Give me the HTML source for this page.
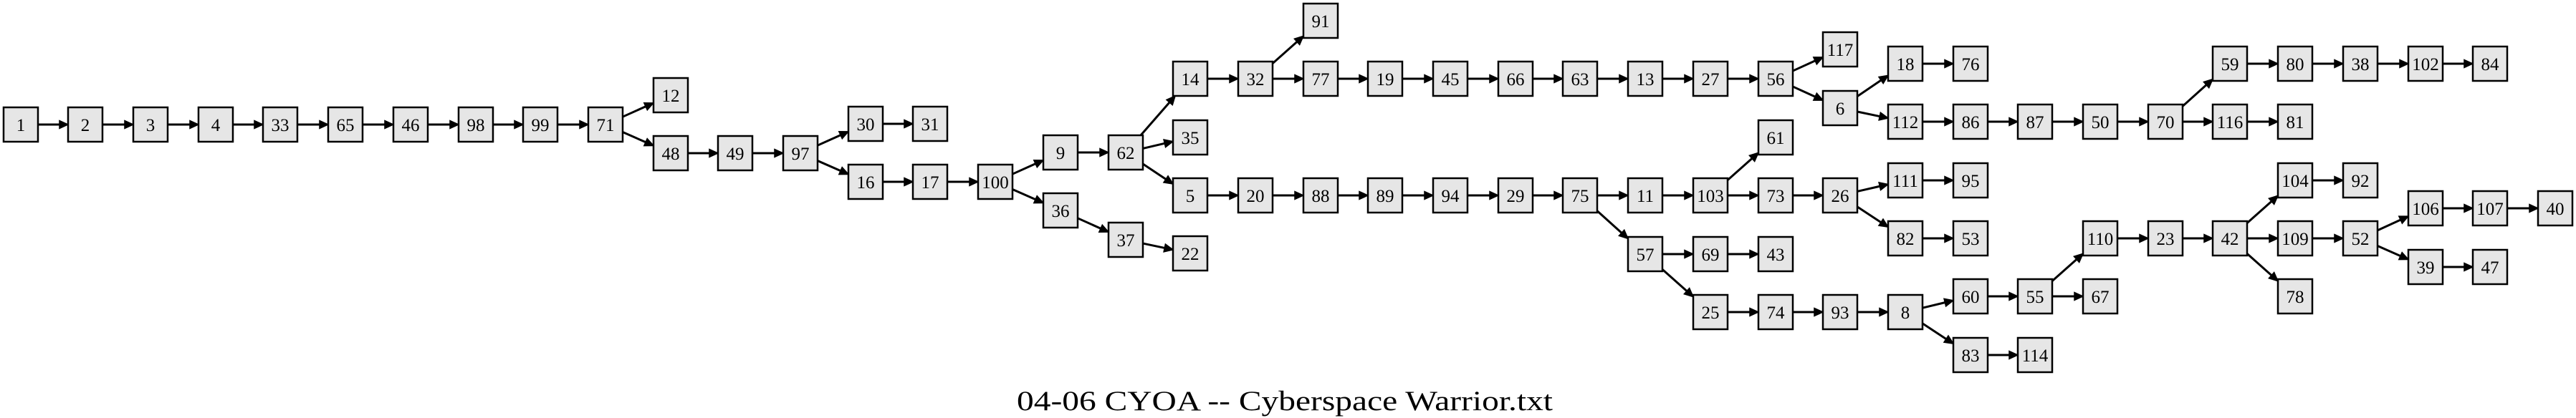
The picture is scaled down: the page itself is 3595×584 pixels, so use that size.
<!DOCTYPE html>
<html><head><meta charset="utf-8">
<style>
html,body{margin:0;padding:0;background:#fff;}
svg{display:block;}
.n rect{fill:#e6e6e6;stroke:#000;stroke-width:2.5;}
.n text{font-family:"Liberation Serif",serif;font-size:25px;text-anchor:middle;fill:#000;}
</style></head><body>
<svg id="s" width="3595" height="584" viewBox="0 0 3595 584" xmlns="http://www.w3.org/2000/svg">
<g id="edges"></g>
<g class="n">
<g transform="translate(5,150)"><rect width="48" height="48"/><text x="24" y="33">1</text></g>
<g transform="translate(95,150)"><rect width="48" height="48"/><text x="24" y="33">2</text></g>
<g transform="translate(186,150)"><rect width="48" height="48"/><text x="24" y="33">3</text></g>
<g transform="translate(277,150)"><rect width="48" height="48"/><text x="24" y="33">4</text></g>
<g transform="translate(367,150)"><rect width="48" height="48"/><text x="24" y="33">33</text></g>
<g transform="translate(458,150)"><rect width="48" height="48"/><text x="24" y="33">65</text></g>
<g transform="translate(549,150)"><rect width="48" height="48"/><text x="24" y="33">46</text></g>
<g transform="translate(640,150)"><rect width="48" height="48"/><text x="24" y="33">98</text></g>
<g transform="translate(730,150)"><rect width="48" height="48"/><text x="24" y="33">99</text></g>
<g transform="translate(821,150)"><rect width="48" height="48"/><text x="24" y="33">71</text></g>
<g transform="translate(912,109)"><rect width="48" height="48"/><text x="24" y="33">12</text></g>
<g transform="translate(912,190)"><rect width="48" height="48"/><text x="24" y="33">48</text></g>
<g transform="translate(1002,190)"><rect width="48" height="48"/><text x="24" y="33">49</text></g>
<g transform="translate(1093,190)"><rect width="48" height="48"/><text x="24" y="33">97</text></g>
<g transform="translate(1184,149)"><rect width="48" height="48"/><text x="24" y="33">30</text></g>
<g transform="translate(1184,230)"><rect width="48" height="48"/><text x="24" y="33">16</text></g>
<g transform="translate(1274,149)"><rect width="48" height="48"/><text x="24" y="33">31</text></g>
<g transform="translate(1274,230)"><rect width="48" height="48"/><text x="24" y="33">17</text></g>
<g transform="translate(1365,230)"><rect width="48" height="48"/><text x="24" y="33">100</text></g>
<g transform="translate(1456,189)"><rect width="48" height="48"/><text x="24" y="33">9</text></g>
<g transform="translate(1456,270)"><rect width="48" height="48"/><text x="24" y="33">36</text></g>
<g transform="translate(1547,189)"><rect width="48" height="48"/><text x="24" y="33">62</text></g>
<g transform="translate(1547,311)"><rect width="48" height="48"/><text x="24" y="33">37</text></g>
<g transform="translate(1637,86)"><rect width="48" height="48"/><text x="24" y="33">14</text></g>
<g transform="translate(1637,168)"><rect width="48" height="48"/><text x="24" y="33">35</text></g>
<g transform="translate(1637,249)"><rect width="48" height="48"/><text x="24" y="33">5</text></g>
<g transform="translate(1637,330)"><rect width="48" height="48"/><text x="24" y="33">22</text></g>
<g transform="translate(1728,86)"><rect width="48" height="48"/><text x="24" y="33">32</text></g>
<g transform="translate(1728,249)"><rect width="48" height="48"/><text x="24" y="33">20</text></g>
<g transform="translate(1819,5)"><rect width="48" height="48"/><text x="24" y="33">91</text></g>
<g transform="translate(1819,86)"><rect width="48" height="48"/><text x="24" y="33">77</text></g>
<g transform="translate(1819,249)"><rect width="48" height="48"/><text x="24" y="33">88</text></g>
<g transform="translate(1909,86)"><rect width="48" height="48"/><text x="24" y="33">19</text></g>
<g transform="translate(1909,249)"><rect width="48" height="48"/><text x="24" y="33">89</text></g>
<g transform="translate(2000,86)"><rect width="48" height="48"/><text x="24" y="33">45</text></g>
<g transform="translate(2000,249)"><rect width="48" height="48"/><text x="24" y="33">94</text></g>
<g transform="translate(2091,86)"><rect width="48" height="48"/><text x="24" y="33">66</text></g>
<g transform="translate(2091,249)"><rect width="48" height="48"/><text x="24" y="33">29</text></g>
<g transform="translate(2181,86)"><rect width="48" height="48"/><text x="24" y="33">63</text></g>
<g transform="translate(2181,249)"><rect width="48" height="48"/><text x="24" y="33">75</text></g>
<g transform="translate(2272,86)"><rect width="48" height="48"/><text x="24" y="33">13</text></g>
<g transform="translate(2272,249)"><rect width="48" height="48"/><text x="24" y="33">11</text></g>
<g transform="translate(2272,331)"><rect width="48" height="48"/><text x="24" y="33">57</text></g>
<g transform="translate(2363,86)"><rect width="48" height="48"/><text x="24" y="33">27</text></g>
<g transform="translate(2363,249)"><rect width="48" height="48"/><text x="24" y="33">103</text></g>
<g transform="translate(2363,331)"><rect width="48" height="48"/><text x="24" y="33">69</text></g>
<g transform="translate(2363,412)"><rect width="48" height="48"/><text x="24" y="33">25</text></g>
<g transform="translate(2454,86)"><rect width="48" height="48"/><text x="24" y="33">56</text></g>
<g transform="translate(2454,168)"><rect width="48" height="48"/><text x="24" y="33">61</text></g>
<g transform="translate(2454,249)"><rect width="48" height="48"/><text x="24" y="33">73</text></g>
<g transform="translate(2454,331)"><rect width="48" height="48"/><text x="24" y="33">43</text></g>
<g transform="translate(2454,412)"><rect width="48" height="48"/><text x="24" y="33">74</text></g>
<g transform="translate(2544,45)"><rect width="48" height="48"/><text x="24" y="33">117</text></g>
<g transform="translate(2544,127)"><rect width="48" height="48"/><text x="24" y="33">6</text></g>
<g transform="translate(2544,249)"><rect width="48" height="48"/><text x="24" y="33">26</text></g>
<g transform="translate(2544,412)"><rect width="48" height="48"/><text x="24" y="33">93</text></g>
<g transform="translate(2635,65)"><rect width="48" height="48"/><text x="24" y="33">18</text></g>
<g transform="translate(2635,146)"><rect width="48" height="48"/><text x="24" y="33">112</text></g>
<g transform="translate(2635,228)"><rect width="48" height="48"/><text x="24" y="33">111</text></g>
<g transform="translate(2635,309)"><rect width="48" height="48"/><text x="24" y="33">82</text></g>
<g transform="translate(2635,412)"><rect width="48" height="48"/><text x="24" y="33">8</text></g>
<g transform="translate(2726,65)"><rect width="48" height="48"/><text x="24" y="33">76</text></g>
<g transform="translate(2726,146)"><rect width="48" height="48"/><text x="24" y="33">86</text></g>
<g transform="translate(2726,228)"><rect width="48" height="48"/><text x="24" y="33">95</text></g>
<g transform="translate(2726,309)"><rect width="48" height="48"/><text x="24" y="33">53</text></g>
<g transform="translate(2726,390)"><rect width="48" height="48"/><text x="24" y="33">60</text></g>
<g transform="translate(2726,472)"><rect width="48" height="48"/><text x="24" y="33">83</text></g>
<g transform="translate(2816,146)"><rect width="48" height="48"/><text x="24" y="33">87</text></g>
<g transform="translate(2816,390)"><rect width="48" height="48"/><text x="24" y="33">55</text></g>
<g transform="translate(2816,472)"><rect width="48" height="48"/><text x="24" y="33">114</text></g>
<g transform="translate(2907,146)"><rect width="48" height="48"/><text x="24" y="33">50</text></g>
<g transform="translate(2907,309)"><rect width="48" height="48"/><text x="24" y="33">110</text></g>
<g transform="translate(2907,390)"><rect width="48" height="48"/><text x="24" y="33">67</text></g>
<g transform="translate(2998,146)"><rect width="48" height="48"/><text x="24" y="33">70</text></g>
<g transform="translate(2998,309)"><rect width="48" height="48"/><text x="24" y="33">23</text></g>
<g transform="translate(3088,65)"><rect width="48" height="48"/><text x="24" y="33">59</text></g>
<g transform="translate(3088,146)"><rect width="48" height="48"/><text x="24" y="33">116</text></g>
<g transform="translate(3088,309)"><rect width="48" height="48"/><text x="24" y="33">42</text></g>
<g transform="translate(3179,65)"><rect width="48" height="48"/><text x="24" y="33">80</text></g>
<g transform="translate(3179,146)"><rect width="48" height="48"/><text x="24" y="33">81</text></g>
<g transform="translate(3179,228)"><rect width="48" height="48"/><text x="24" y="33">104</text></g>
<g transform="translate(3179,309)"><rect width="48" height="48"/><text x="24" y="33">109</text></g>
<g transform="translate(3179,390)"><rect width="48" height="48"/><text x="24" y="33">78</text></g>
<g transform="translate(3270,65)"><rect width="48" height="48"/><text x="24" y="33">38</text></g>
<g transform="translate(3270,228)"><rect width="48" height="48"/><text x="24" y="33">92</text></g>
<g transform="translate(3270,309)"><rect width="48" height="48"/><text x="24" y="33">52</text></g>
<g transform="translate(3361,65)"><rect width="48" height="48"/><text x="24" y="33">102</text></g>
<g transform="translate(3361,267)"><rect width="48" height="48"/><text x="24" y="33">106</text></g>
<g transform="translate(3361,349)"><rect width="48" height="48"/><text x="24" y="33">39</text></g>
<g transform="translate(3451,65)"><rect width="48" height="48"/><text x="24" y="33">84</text></g>
<g transform="translate(3451,267)"><rect width="48" height="48"/><text x="24" y="33">107</text></g>
<g transform="translate(3451,349)"><rect width="48" height="48"/><text x="24" y="33">47</text></g>
<g transform="translate(3542,267)"><rect width="48" height="48"/><text x="24" y="33">40</text></g>
</g>
<text x="1793" y="573" font-family="Liberation Serif, serif" font-size="39" text-anchor="middle" textLength="748" lengthAdjust="spacingAndGlyphs">04-06 CYOA -- Cyberspace Warrior.txt</text>
</svg>
<script>
(function(){
var P={};
document.querySelectorAll('.n > g').forEach(function(g){
  var m=g.getAttribute('transform').match(/translate\(([\d.]+),([\d.]+)\)/);
  P[g.querySelector('text').textContent]=[+m[1]+24,+m[2]+24];
});
var E="1-2 2-3 3-4 4-33 33-65 65-46 46-98 98-99 99-71 71-12 71-48 48-49 49-97 97-30 97-16 30-31 16-17 17-100 100-9 100-36 9-62 36-37 37-22 62-14 62-35 62-5 14-32 32-91 32-77 5-20 20-88 77-19 19-45 45-66 66-63 63-13 13-27 27-56 56-117 56-6 6-18 6-112 18-76 112-86 86-87 87-50 50-70 70-59 70-116 59-80 80-38 38-102 102-84 116-81 88-89 89-94 94-29 29-75 75-11 75-57 11-103 103-61 103-73 73-26 26-111 26-82 111-95 82-53 57-69 57-25 69-43 25-74 74-93 93-8 8-60 8-83 60-55 83-114 55-110 55-67 110-23 23-42 42-104 42-109 42-78 104-92 109-52 52-106 52-39 106-107 107-40 39-47".split(' ');
var NS="http://www.w3.org/2000/svg",G=document.getElementById('edges'),h=24;
function clip(dx,dy){var t=Math.min(dx?h/Math.abs(dx):1e9,dy?h/Math.abs(dy):1e9);return t;}
E.forEach(function(e){
  var p=e.split('-'),a=P[p[0]],b=P[p[1]];
  var dx=b[0]-a[0],dy=b[1]-a[1],L=Math.hypot(dx,dy),ux=dx/L,uy=dy/L;
  var t=clip(dx,dy);
  var sx=a[0]+dx*t,sy=a[1]+dy*t,ex=b[0]-dx*t,ey=b[1]-dy*t;
  var al=12,aw=5.5;
  var bx=ex-ux*al,by=ey-uy*al;
  var l=document.createElementNS(NS,'line');
  l.setAttribute('x1',sx);l.setAttribute('y1',sy);l.setAttribute('x2',bx);l.setAttribute('y2',by);
  l.setAttribute('stroke','#000');l.setAttribute('stroke-width','3');
  G.appendChild(l);
  var pg=document.createElementNS(NS,'polygon');
  pg.setAttribute('points',ex+','+ey+' '+(bx-uy*aw)+','+(by+ux*aw)+' '+(bx+uy*aw)+','+(by-ux*aw));
  pg.setAttribute('fill','#000');pg.setAttribute('stroke','#000');pg.setAttribute('stroke-width','1.5');
  G.appendChild(pg);
});
})();
</script>
</body></html>
